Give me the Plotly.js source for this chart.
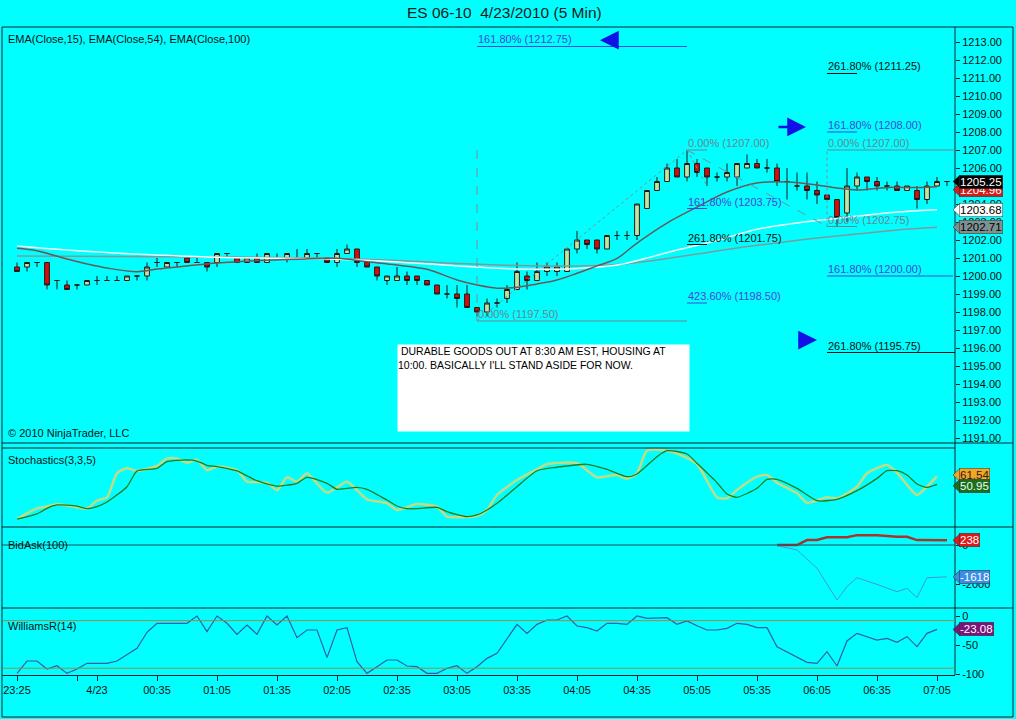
<!DOCTYPE html>
<html><head><meta charset="utf-8">
<script src="https://cdn.plot.ly/plotly-3.0.1.min.js"></script>
<style>html,body{margin:0;padding:0;background:#00ffff;overflow:hidden}#chart{width:1016px;height:719px}</style>
</head><body><div id="chart"></div>
<script>
// ---------- DATA ----------
const opens  = [1200.50,1200.50,1200.75,1200.75,1199.75,1199.50,1199.50,1199.50,1199.75,1199.75,
                1199.75,1199.75,1200.00,1200.00,1200.75,1200.50,1200.75,1201.00,1200.75,1200.75,
                1200.75,1201.25,1201.00,1200.75,1201.00,1200.75,1201.00,1201.00,1201.00,1201.00,
                1201.25,1201.00,1200.75,1201.25,1201.50,1200.75,1200.50,1199.75,1199.75,1200.00,
                1200.00,1199.75,1199.50,1199.00,1199.00,1199.00,1198.25,1198.00,1198.50,1198.75,
                1199.25,1200.00,1199.75,1200.25,1200.25,1200.25,1201.50,1202.00,1202.00,1201.50,
                1202.25,1202.25,1202.25,1203.75,1204.75,1205.25,1206.00,1205.50,1206.25,1206.00,
                1205.50,1205.50,1205.50,1206.00,1206.25,1206.00,1206.00,1205.25,1205.00,1205.00,
                1204.75,1204.50,1204.25,1203.50,1205.00,1205.50,1205.25,1205.00,1205.00,1204.75,
                1204.75,1204.25,1205.00,1205.25];
const highs  = [1200.75,1200.75,1200.75,1200.75,1199.75,1199.75,1199.50,1199.75,1200.00,1200.00,
                1200.00,1200.00,1200.00,1200.75,1201.00,1200.75,1200.75,1201.00,1201.00,1200.75,
                1201.25,1201.25,1201.00,1201.00,1201.25,1201.25,1201.25,1201.25,1201.50,1201.50,
                1201.25,1201.00,1201.50,1201.75,1201.50,1200.75,1200.50,1200.00,1200.50,1200.25,
                1200.00,1199.75,1199.50,1199.50,1199.50,1199.50,1198.25,1198.75,1198.75,1199.50,
                1200.75,1200.25,1200.75,1200.75,1200.75,1201.50,1202.50,1202.00,1202.00,1202.25,
                1202.50,1202.50,1204.00,1204.75,1205.50,1206.25,1206.50,1207.00,1206.50,1206.00,
                1205.75,1206.25,1206.25,1206.75,1206.50,1206.50,1206.25,1206.00,1205.75,1205.75,
                1205.25,1204.50,1204.25,1206.00,1205.75,1205.50,1205.50,1205.25,1205.25,1205.00,
                1205.00,1205.25,1205.50,1205.25];
const lows   = [1200.25,1200.25,1200.50,1199.25,1199.25,1199.25,1199.25,1199.50,1199.50,1199.75,
                1199.75,1199.75,1199.75,1199.75,1200.50,1200.50,1200.50,1200.75,1200.75,1200.25,
                1200.50,1201.00,1200.75,1200.75,1200.75,1200.75,1201.00,1200.75,1201.00,1201.00,
                1201.00,1200.75,1200.50,1201.25,1200.50,1200.50,1199.75,1199.50,1199.75,1199.50,
                1199.50,1199.50,1199.00,1198.75,1198.25,1198.25,1197.75,1197.75,1198.25,1198.50,
                1199.25,1199.25,1199.75,1200.00,1200.00,1200.25,1201.25,1201.50,1201.25,1201.50,
                1202.00,1202.00,1202.00,1203.75,1204.75,1205.25,1205.50,1205.25,1205.50,1205.00,
                1205.25,1205.25,1205.00,1206.00,1206.00,1205.75,1205.00,1204.25,1204.75,1204.25,
                1204.00,1204.25,1202.75,1203.00,1204.75,1204.75,1204.75,1204.75,1204.75,1204.75,
                1203.75,1204.00,1205.00,1205.00];
const closes = [1200.25,1200.75,1200.75,1199.50,1199.75,1199.25,1199.50,1199.75,1199.75,1199.75,
                1199.75,1200.00,1200.00,1200.50,1200.75,1200.75,1200.75,1200.75,1200.75,1200.50,
                1201.25,1201.25,1200.75,1201.00,1200.75,1201.25,1201.00,1201.25,1201.00,1201.25,
                1201.25,1200.75,1201.25,1201.50,1200.75,1200.50,1200.00,1200.00,1200.00,1199.75,
                1199.75,1199.50,1199.00,1199.00,1198.75,1198.25,1198.00,1198.50,1198.50,1199.25,
                1200.25,1199.75,1200.25,1200.50,1200.50,1201.50,1202.00,1201.75,1201.50,1202.25,
                1202.25,1202.25,1204.00,1204.75,1205.25,1206.00,1205.50,1206.25,1205.75,1205.50,
                1205.50,1205.75,1206.25,1206.25,1206.00,1206.00,1205.25,1205.25,1205.00,1204.75,
                1204.50,1204.25,1203.25,1205.00,1205.50,1205.25,1205.00,1205.00,1204.75,1205.00,
                1204.25,1205.00,1205.25,1205.25];

// EMA lines (sampled, bar index / price)
const ema15Idx = [0,2,5,7,9,12,14,17,20,24,28,32,35,38,41,44,46,48,50,52,54,56,58,60,62,65,68,71,74,77,80,82,84,87,90,92];
const ema15    = [1201.54,1201.40,1200.94,1200.67,1200.44,1200.24,1200.39,1200.56,1200.72,1200.85,1200.93,1200.98,1200.79,1200.61,1200.37,1199.78,1199.50,1199.32,1199.37,1199.56,1199.78,1200.15,1200.56,1200.98,1201.83,1202.94,1203.83,1204.67,1205.17,1205.22,1205.06,1204.89,1204.78,1204.92,1204.92,1204.96];
const ema54Idx = [0,4,9,14,20,26,32,38,44,48,52,56,60,63,66,70,74,78,82,86,90,92];
const ema54    = [1201.67,1201.48,1201.30,1201.17,1201.04,1200.98,1200.93,1200.78,1200.56,1200.43,1200.37,1200.42,1200.61,1201.00,1201.44,1201.97,1202.60,1202.95,1203.20,1203.45,1203.62,1203.68];
const ema100Idx = [0,10,20,30,38,44,50,56,60,64,68,72,76,80,84,88,92];
const ema100    = [1201.11,1201.08,1201.06,1201.00,1200.86,1200.69,1200.58,1200.56,1200.64,1200.89,1201.22,1201.56,1201.83,1202.11,1202.33,1202.56,1202.71];

// Stochastics(3,3,5)
const stochDIdx = [0,2,3,4,6,7,8,9,11,12,14,15,17,18,19,20,22,24,26,28,29,31,32,34,35,37,38,39,40,42,43,44,45,46,47,48,50,52,54,57,59,61,62,64,65,67,68,70,71,72,74,75,76,78,80,82,84,86,87,88,89,90,91,92];
const stochD    = [4,11,18.5,23,21.6,18,20.7,27,47.7,69,72.5,81.5,84,82.4,76.6,74.8,69,55.8,48.6,52.3,60.4,52.3,44.2,46.9,44.2,29.7,21.6,18,18,19.8,14,9.9,7.2,9.5,16.2,25.2,47.7,69.3,74,78,71.2,61.2,64.9,88.3,96.4,91.9,79.3,53.1,37.8,33.4,45.5,57.7,57.7,45.5,28.8,30.6,42.3,59,69.3,69.3,63.5,51.4,46.9,50.95];
const stochKIdx = [0,2,3,4,6,7,8,9,10,11,12,14,15,16,17,18,19,20,22,23,25,26,27,28,29,30,31,33,34,35,37,38,40,42,43,44,46,47,48,50,52,53,56,58,60,61,62,63,65,66,68,70,71,72,74,75,76,78,79,81,82,84,85,87,88,90,91,92];
const stochK    = [4,18.5,21,24,20,18,28.8,33.3,65.8,72.5,69,75.7,86,86,80,84,70,74.8,70,54.5,53,43,60.4,54.5,65.8,52.3,39.6,54.5,43,30.6,25.2,16.2,24.3,20.7,7.2,6.3,8.1,16.2,36.5,56.8,71.2,78.4,79.3,60.4,63.5,58.5,65.8,96.4,96.4,92.8,78.4,33.4,32,43.2,61.2,63.5,53.1,38.8,26.1,33.4,32,47.7,65.8,77,66.6,36.5,47.7,61.54];

// BidAsk(100)
const askIdx = [76,78,79,80,81,83,84,86,88,89,90,93];
const askVal = [0,0,250,250,390,390,500,500,420,420,250,238];
const bidIdx = [76,78,80,82,83,84,86,88,89,90,91,93];
const bidVal = [-35,-250,-1180,-2790,-2110,-1660,-2000,-2370,-2200,-2670,-1660,-1618];

// WilliamsR(14)
const willIdx = [0,1,2,3,4,5,6,7,8,9,10,11,12,13,14,15,16,17,18,19,20,21,22,23,24,25,26,27,28,29,30,31,32,33,34,35,36,37,38,39,40,41,42,43,44,45,46,47,48,
                 50,51,52,53,54,55,56,57,58,59,60,61,62,63,64,65,66,67,68,69,70,71,72,73,74,75,76,77,78,79,80,81,82,83,84,85,86,87,88,89,90,91,92];
const willR = [-98.9,-77.6,-77.6,-91.4,-85.6,-98.9,-91.4,-81.6,-81.6,-81.6,-77.6,-67.2,-55.7,-28.1,-12.6,-12.6,-12.6,-12.6,0,-27,0,-12.6,-31.6,-15.5,-31.6,0,-15.5,0,-37.4,-24.1,-24.1,-71.8,-24.1,-20.1,-78.7,-98.9,-87.4,-75.9,-75.9,-86.2,-87.4,-98.9,-98.9,-90.2,-85.6,-98.9,-87.4,-73,-64.4,
               -14.4,-29.9,-14.4,-6.9,-6.9,0,-17.2,-20.1,-25.9,-12.6,-12.6,-14.4,0,-4,-4,-2.9,-14.4,-8.6,-16.7,-24.1,-24.1,-21.3,-12.6,-14.4,-20.1,-20.1,-52.9,-61.5,-70.1,-79.9,-81.6,-61.5,-86.2,-43.1,-29.9,-35.6,-41.4,-38.5,-45.4,-35.6,-52.9,-29.9,-23.08];
const willLines = [-8, -90];

// time axis
const tickIdx  = [0,6,8,14,20,26,32,38,44,50,56,62,68,74,80,86,92];
const tickText = ['23:25','','4/23','00:35','01:05','01:35','02:05','02:35','03:05','03:35','04:05','04:35','05:05','05:35','06:05','06:35','07:05'];
const priceTicks = [1191,1192,1193,1194,1195,1196,1197,1198,1199,1200,1201,1202,1203,1204,1205,1206,1207,1208,1209,1210,1211,1212,1213];

// Fibonacci drawing levels
const fibText  = ['161.80% (1212.75)','0.00% (1197.50)','0.00% (1207.00)','161.80% (1203.75)','261.80% (1201.75)','423.60% (1198.50)',
                  '261.80% (1211.25)','161.80% (1208.00)','0.00% (1207.00)','0.00% (1202.75)','161.80% (1200.00)','261.80% (1195.75)'];
const fibPrice = [1212.75,1197.50,1207.00,1203.75,1201.75,1198.50,1211.25,1208.00,1207.00,1202.75,1200.00,1195.75];
const fibX0    = [46,46,67,67,67,67,81,81,81,81,81,81];
const fibX1    = [67,67,69,69,69,69,84,84,93.8,84,93.6,93.8];
const fibKind  = ['blue','gray','gray','blue','black','blue','black','blue','gray','gray','blue','black'];
// connector lines of the drawings
const conX0 = [46,46,67,67,81];
const conY0 = [1197.50,1197.50,1207.00,1207.00,1202.75];
const conX1 = [67,46,69,81,81];
const conY1 = [1207.00,1207.00,1205.00,1202.75,1207.00];
const conDash = ['dot','dash','dot','dash','dot'];
// blue arrows (tail -> head)
const arrTailIdx = [59.9,76,78];
const arrHeadIdx = [58.3,78.9,80];
const arrPrice   = [1213.1,1208.28,1196.44];

const noteText = '\u00a0DURABLE GOODS OUT AT 8:30 AM EST, HOUSING AT<br>10:00. BASICALLY I\'LL STAND ASIDE FOR NOW.';

// ---------- LAYOUT HELPERS ----------
const W = 1016, H = 719;
const PX = x => x / W, PY = y => 1 - y / H;
const FONT = 'Liberation Sans, Arial, sans-serif';
const INK = '#14202a';
const COL = {blue:'#4646d6', gray:'#6f8494', black:'#111111'};

const yMainR = [1213 + 15/18, 1213 - 401/18];          // px 27 .. 443
const yStochR = [(522-527)/0.74, (522-443)/0.74];
const yBAR = [(545-608)/0.0197, (545-527)/0.0197];
const yWR = [-(675-616)/0.58, -(608-616)/0.58];
const xR = [-1.5, 93.8];

const traces = [
  {x: ema100Idx, y: ema100, type:'scatter', mode:'lines', line:{color:'#7c9c9c', width:1.5, shape:'spline'}, hoverinfo:'skip'},
  {x: ema54Idx, y: ema54, type:'scatter', mode:'lines', line:{color:'#f2ffff', width:1.5, shape:'spline'}, hoverinfo:'skip'},
  {x: ema15Idx, y: ema15, type:'scatter', mode:'lines', line:{color:'#665a5a', width:1.5, shape:'spline'}, hoverinfo:'skip'},
  {type:'candlestick', x: opens.map((_, i) => i), open: opens, high: highs, low: lows, close: closes,
   increasing:{fillcolor:'#bde6a4', line:{color:'#1a1a1a', width:1}},
   decreasing:{fillcolor:'#d40d0d', line:{color:'#1a1a1a', width:1}},
   whiskerwidth:0, hoverinfo:'skip'},
  {x: stochKIdx, y: stochK, yaxis:'y2', type:'scatter', mode:'lines', line:{color:'#bfdc86', width:2.5, shape:'spline', smoothing:0.6}, hoverinfo:'skip'},
  {x: stochDIdx, y: stochD, yaxis:'y2', type:'scatter', mode:'lines', line:{color:'#1b7d1b', width:1.3, shape:'spline', smoothing:0.6}, hoverinfo:'skip'},
  {x: askIdx, y: askVal, yaxis:'y3', type:'scatter', mode:'lines', line:{color:'#a8342e', width:2.5}, hoverinfo:'skip'},
  {x: bidIdx, y: bidVal, yaxis:'y3', type:'scatter', mode:'lines', line:{color:'#3f98dc', width:1}, hoverinfo:'skip'},
  {x: willIdx, y: willR, yaxis:'y4', type:'scatter', mode:'lines', line:{color:'#2f5cab', width:1.2}, hoverinfo:'skip'}
];

const shapes = [];
const pline = (x0,y0,x1,y1,c,w) => shapes.push({type:'line', xref:'paper', yref:'paper', x0:PX(x0), y0:PY(y0), x1:PX(x1), y1:PY(y1), line:{color:c||INK, width:w||1}});
// frame & panel separators
pline(2,27,1013,27); pline(2,443,1013,443); pline(2,527,1013,527); pline(2,608,1013,608);
pline(2,717,1013,717); pline(2,27,2,717); pline(1013,27,1013,717); pline(955,27,955,675);
// stochastics top guide (value 100)
shapes.push({type:'line', xref:'paper', yref:'y2', x0:PX(2), x1:PX(955), y0:100, y1:100, line:{color:INK, width:1}});
// bidask zero line
shapes.push({type:'line', xref:'paper', yref:'y3', x0:PX(2), x1:PX(955), y0:0, y1:0, line:{color:'#24505a', width:1}});
// williams lines
willLines.forEach(v => shapes.push({type:'line', xref:'paper', yref:'y4', x0:PX(2), x1:PX(955), y0:v, y1:v, line:{color:'#9a8a52', width:1}}));
// fib level lines
fibPrice.forEach((p,i) => shapes.push({type:'line', xref:'x', yref:'y', x0:fibX0[i], x1:fibX1[i], y0:p, y1:p, line:{color:COL[fibKind[i]], width:1}}));
// drawing connectors
conX0.forEach((x,i) => shapes.push({type:'line', xref:'x', yref:'y', x0:x, y0:conY0[i], x1:conX1[i], y1:conY1[i], line:{color:'#7d8c96', width:1, dash:conDash[i]}}));

const annotations = [];
const txt = (x,y,t,size,color,anchor) => annotations.push({xref:'paper', yref:'paper', x:PX(x), y:PY(y), text:t, showarrow:false, xanchor:anchor||'left', yanchor:'middle', font:{family:FONT, size:size||11, color:color||'#111'}});
txt(504,13,'ES 06-10\u00a0\u00a04/23/2010 (5 Min)',15.5,'#1a1a1a','center');
txt(6,39,'EMA(Close,15), EMA(Close,54), EMA(Close,100)');
txt(6,433,'\u00a9 2010 NinjaTrader, LLC');
txt(6,460,'Stochastics(3,3,5)');
txt(6,545,'BidAsk(100)');
txt(6,626,'WilliamsR(14)');

// fib labels
fibText.forEach((t,i) => annotations.push({xref:'x', yref:'y', x:fibX0[i], y:fibPrice[i], text:t, showarrow:false, xanchor:'left', yanchor:'bottom', borderpad:0, yshift:0, font:{family:FONT, size:11, color:COL[fibKind[i]]}}));
// note box
annotations.push({xref:'paper', yref:'paper', x:PX(397), y:PY(344), xanchor:'left', yanchor:'top', width:291, height:86, align:'left', valign:'top', bgcolor:'#ffffff', borderpad:0, showarrow:false, text:noteText, font:{family:FONT, size:10.5, color:'#000'}});
// arrows
arrPrice.forEach((p,i) => annotations.push({xref:'x', yref:'y', axref:'x', ayref:'y', x:arrHeadIdx[i], y:p, ax:arrTailIdx[i], ay:p, text:'', showarrow:true, arrowhead:2, arrowsize:1.5, arrowwidth:2.5, arrowcolor:'#1212e6', standoff:0, startstandoff:0}));

// value labels at right axis
const axInfo = {y:[yMainR[1], yMainR[0], 443, 27], y2:[yStochR[0], yStochR[1], 527, 443], y3:[yBAR[0], yBAR[1], 608, 527], y4:[yWR[0], yWR[1], 675, 608]};
function valueLabel(axis, v, text, bg, fg, yshift){
  const a = axInfo[axis];
  const upp = (a[1] - a[0]) / (a[2] - a[3]);   // units per pixel
  const vv = v + (yshift||0) * upp;
  const hh = 6.5 * upp;
  shapes.push({type:'path', xref:'paper', yref:axis, path:`M ${PX(953)},${vv} L ${PX(960)},${vv+hh} L ${PX(960)},${vv-hh} Z`, fillcolor:bg, line:{color:'#222', width:0.5}});
  annotations.push({xref:'paper', yref:axis, x:PX(959), y:vv, xanchor:'left', yanchor:'middle', text:text, showarrow:false, bgcolor:bg, bordercolor:'#333', borderwidth:0.5, borderpad:0.5, font:{family:FONT, size:11.5, color:fg}});
}
valueLabel('y', ema15[ema15.length-1], ema15[ema15.length-1].toFixed(2), '#d41c1c', '#ffffff', -3);
valueLabel('y', closes[closes.length-1], closes[closes.length-1].toFixed(2), '#000000', '#ffffff', 0);
valueLabel('y', ema54[ema54.length-1], ema54[ema54.length-1].toFixed(2), '#ffffff', '#000000', 0);
valueLabel('y', ema100[ema100.length-1], ema100[ema100.length-1].toFixed(2), '#7f9090', '#000000', 0);
valueLabel('y2', stochK[stochK.length-1], stochK[stochK.length-1].toFixed(2), '#f4a522', '#222222', 1.5);
valueLabel('y2', stochD[stochD.length-1], stochD[stochD.length-1].toFixed(2), '#1d6d1d', '#e8ffe8', -1.5);
valueLabel('y3', askVal[askVal.length-1], String(askVal[askVal.length-1]), '#e01818', '#ffffff', 0);
valueLabel('y3', bidVal[bidVal.length-1], String(bidVal[bidVal.length-1]), '#3a8ee6', '#ffffff', 0);
valueLabel('y4', willR[willR.length-1], willR[willR.length-1].toFixed(2), '#7a167a', '#ffffff', 0);

const tickFont = {family:FONT, size:11, color:'#111'};
const yCommon = {anchor:'x', side:'right', showgrid:false, zeroline:false, showline:false, automargin:false, fixedrange:true,
                 ticks:'outside', ticklen:4, tickcolor:INK, tickfont:tickFont};
const layout = {
  width:W, height:H, margin:{l:0,r:0,t:0,b:0}, paper_bgcolor:'#00ffff', plot_bgcolor:'#00ffff',
  showlegend:false, hovermode:false, boxgap:0.32,
  xaxis:{domain:[PX(2), PX(955)], range:xR, anchor:'y4', rangeslider:{visible:false}, showgrid:false, zeroline:false,
         showline:true, linecolor:INK, linewidth:1, ticks:'outside', ticklen:5, tickcolor:INK,
         tickmode:'array', tickvals:tickIdx, ticktext:tickText, tickfont:tickFont, automargin:false, fixedrange:true},
  yaxis: Object.assign({}, yCommon, {domain:[PY(443), PY(27)], range:[yMainR[1], yMainR[0]], tickmode:'array', tickvals:priceTicks, tickformat:'.2f'}),
  yaxis2: Object.assign({}, yCommon, {domain:[PY(527), PY(443)], range:yStochR, showticklabels:false, ticks:''}),
  yaxis3: Object.assign({}, yCommon, {domain:[PY(608), PY(527)], range:yBAR, tickmode:'array', tickvals:[0,-2000], ticktext:['0','-2000']}),
  yaxis4: Object.assign({}, yCommon, {domain:[PY(675), PY(608)], range:yWR, tickmode:'array', tickvals:[0,-50,-100], ticktext:['0','-50','-100']}),
  shapes: shapes, annotations: annotations
};
Plotly.newPlot('chart', traces, layout, {staticPlot:true, displayModeBar:false});
</script></body></html>
